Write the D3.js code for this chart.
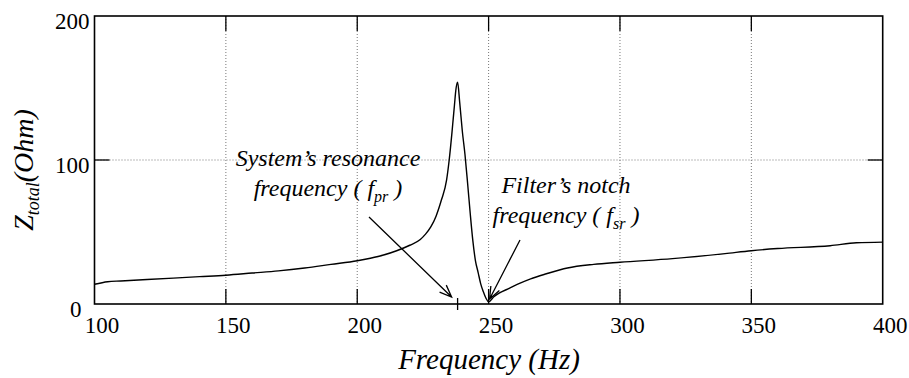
<!DOCTYPE html>
<html><head><meta charset="utf-8"><script src="https://cdn.jsdelivr.net/npm/d3@7"></script></head>
<body style="margin:0">
<script>
// frequency (Hz) and total impedance (Ohm)
const freq = [100, 105, 110, 120, 130, 140, 150, 160, 170, 180, 190, 200, 205, 210, 215, 220,
              224, 226, 228, 230, 232, 234, 235, 236, 236.5, 237, 237.5, 238.2, 239, 240, 241, 242,
              243, 244, 245, 246, 247, 248, 249, 250, 252, 254, 258, 262, 266, 272, 280, 290,
              300, 320, 340, 350, 360, 380, 390, 400];
const zTotal = [13.7, 15.5, 16, 17, 18, 19, 20, 21.5, 23, 25, 27.5, 30, 31.8, 34, 37, 40.8,
                44.8, 48.5, 53.5, 61, 72, 86, 100, 118, 128, 138, 148, 154, 140, 120, 104, 84,
                63, 44, 30, 22, 14, 8.5, 4, 1.5, 5, 7.5, 11, 14.5, 17.5, 21, 25, 27.5,
                29, 31.5, 35, 37, 38.5, 40.5, 42.5, 43];
const xTicks = [100, 150, 200, 250, 300, 350, 400];
const yTicks = [0, 100, 200];
const fpr = 238.2;

const w = 909, h = 378;
const mLeft = 94.5, mRight = 882.7, mTop = 16, mBottom = 304;
const serif = "'Liberation Serif'";

const x = d3.scaleLinear().domain([100, 400]).range([mLeft, mRight]);
const y = d3.scaleLinear().domain([0, 200]).range([mBottom, mTop]);

const svg = d3.select("body").append("svg")
  .attr("width", w).attr("height", h);

// grid
const grid = svg.append("g")
  .attr("stroke", "#777").attr("stroke-width", 1).attr("stroke-dasharray", "1,2");
grid.selectAll(".vx").data(xTicks.slice(1, -1)).enter().append("line")
  .attr("x1", d => x(d)).attr("x2", d => x(d))
  .attr("y1", mTop).attr("y2", mBottom);
grid.selectAll(".hy").data(yTicks.slice(1, -1)).enter().append("line")
  .attr("x1", mLeft).attr("x2", mRight)
  .attr("y1", d => y(d)).attr("y2", d => y(d));

// inward ticks on all sides
const tk = 15;
const ticks = svg.append("g").attr("stroke", "#000").attr("stroke-width", 1.3);
xTicks.slice(1, -1).forEach(d => {
  ticks.append("line").attr("x1", x(d)).attr("x2", x(d)).attr("y1", mBottom).attr("y2", mBottom - tk);
  ticks.append("line").attr("x1", x(d)).attr("x2", x(d)).attr("y1", mTop).attr("y2", mTop + tk);
});
yTicks.slice(1, -1).forEach(d => {
  ticks.append("line").attr("x1", mLeft).attr("x2", mLeft + tk).attr("y1", y(d)).attr("y2", y(d));
  ticks.append("line").attr("x1", mRight).attr("x2", mRight - tk).attr("y1", y(d)).attr("y2", y(d));
});
// resonance marker crossing the axis
ticks.append("line").attr("x1", x(fpr)).attr("x2", x(fpr))
  .attr("y1", mBottom - 6).attr("y2", mBottom + 6);

// tick labels (axis generators, then restyled)
const xAxis = svg.append("g")
  .attr("transform", "translate(0," + mBottom + ")")
  .call(d3.axisBottom(x).tickValues(xTicks).tickSize(0).tickPadding(13).tickFormat(d3.format("d")));
xAxis.attr("font-family", null).attr("font-size", null);
xAxis.select(".domain").remove();
xAxis.selectAll("text")
  .attr("font-size", 23).attr("dx", 7).attr("fill", "#000")
  .style("font-family", serif);

const yAxis = svg.append("g")
  .attr("transform", "translate(" + mLeft + ",0)")
  .call(d3.axisLeft(y).tickValues(yTicks).tickSize(0).tickPadding(5).tickFormat(d3.format("d")));
yAxis.attr("font-family", null).attr("font-size", null);
yAxis.select(".domain").remove();
yAxis.selectAll("text")
  .attr("font-size", 23).attr("dy", "0.55em").attr("fill", "#000")
  .attr("dx", d => d === 0 ? -8 : 0)
  .style("font-family", serif);

// curve
const line = d3.line().x((d, i) => x(freq[i])).y(d => y(d)).curve(d3.curveMonotoneX);
svg.append("path").datum(zTotal)
  .attr("d", line).attr("fill", "none")
  .attr("stroke", "#000").attr("stroke-width", 1.4);

// frame
svg.append("rect")
  .attr("x", mLeft).attr("y", mTop)
  .attr("width", mRight - mLeft).attr("height", mBottom - mTop)
  .attr("fill", "none").attr("stroke", "#000").attr("stroke-width", 1.6);

// axis titles
svg.append("text")
  .attr("x", 489).attr("y", 369)
  .attr("text-anchor", "middle").attr("font-size", 29).attr("font-style", "italic")
  .style("font-family", serif)
  .text("Frequency (Hz)");

const yt = svg.append("text")
  .attr("transform", "translate(33,170) rotate(-90)")
  .attr("text-anchor", "middle").attr("font-size", 28).attr("font-style", "italic")
  .style("font-family", serif);
yt.append("tspan").text("Z");
yt.append("tspan").attr("font-size", 18).attr("dy", 6).text("total");
yt.append("tspan").attr("dy", -6).text("(Ohm)");

// annotations
function note(tx, ty, l1, l2pre, sub) {
  svg.append("text").attr("x", tx).attr("y", ty)
    .attr("text-anchor", "middle").attr("font-size", 24).attr("font-style", "italic")
    .style("font-family", serif)
    .text(l1);
  const t = svg.append("text").attr("x", tx).attr("y", ty + 30)
    .attr("text-anchor", "middle").attr("font-size", 24).attr("font-style", "italic")
    .style("font-family", serif);
  t.append("tspan").text(l2pre + "( f");
  t.append("tspan").attr("font-size", 16).attr("dy", 6).text(sub);
  t.append("tspan").attr("dy", -6).text(" )");
}
note(328, 166, "System\u2019s resonance", "frequency ", "pr");
note(566, 193, "Filter\u2019s notch", "frequency ", "sr");

function arrow(x1, y1, x2, y2) {
  const a = Math.atan2(y2 - y1, x2 - x1), L = 13, s = 0.38;
  const p = d3.path();
  p.moveTo(x1, y1); p.lineTo(x2, y2);
  p.moveTo(x2 - L * Math.cos(a - s), y2 - L * Math.sin(a - s));
  p.lineTo(x2, y2);
  p.lineTo(x2 - L * Math.cos(a + s), y2 - L * Math.sin(a + s));
  svg.append("path").attr("d", p.toString())
    .attr("fill", "none").attr("stroke", "#000").attr("stroke-width", 1.3);
}
arrow(369, 217, x(fpr) - 6, 297);
arrow(520, 240, x(250) + 1, 299);
</script>
</body>
</html>
